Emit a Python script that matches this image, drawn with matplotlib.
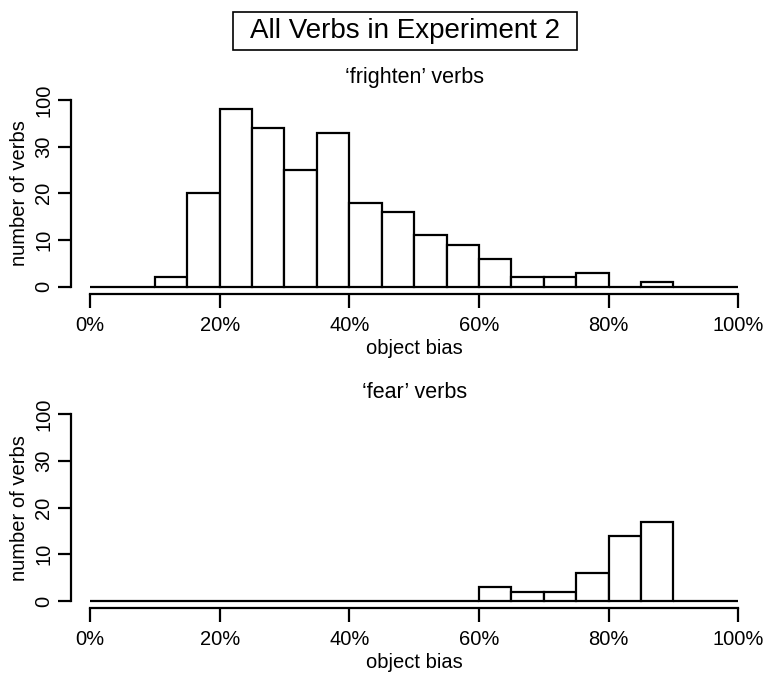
import numpy as np
import matplotlib
matplotlib.use("Agg")
import matplotlib.pyplot as plt
from matplotlib.patches import Rectangle

plt.rcParams['font.family'] = ['Liberation Sans', 'DejaVu Sans']

# histogram bins (object bias, %) and counts
bin_edges = np.arange(0, 105, 5)
frighten_counts = [0, 0, 2, 20, 38, 34, 25, 33, 18, 16, 11, 9, 6, 2, 2, 3, 0, 1, 0, 0]
fear_counts = [0, 0, 0, 0, 0, 0, 0, 0, 0, 0, 0, 0, 3, 2, 2, 6, 14, 17, 0, 0]

x_ticks = [0, 20, 40, 60, 80, 100]
x_labels = ['0%', '20%', '40%', '60%', '80%', '100%']
y_ticks = [0, 10, 20, 30, 40]
y_labels = ['0', '10', '20', '30', '100']

main_title = 'All Verbs in Experiment 2'
panel_titles = ['\u2018frighten\u2019 verbs', '\u2018fear\u2019 verbs']

fig = plt.figure(figsize=(7.65, 6.74), dpi=100)
W, H = 765, 674


def draw_panel(ax, counts, title):
    ax.bar(bin_edges[:-1], counts, width=5, align='edge', facecolor='white',
           edgecolor='black', linewidth=1.6, clip_on=False)
    ax.set_xlim(0, 100)
    ax.set_ylim(0, 40)
    for s in ['top', 'right']:
        ax.spines[s].set_visible(False)
    ax.spines['bottom'].set_position(('outward', 5))
    ax.spines['left'].set_position(('outward', 14))
    for s in ['bottom', 'left']:
        ax.spines[s].set_linewidth(1.6)
    ax.set_xticks(x_ticks)
    ax.set_xticklabels(x_labels)
    ax.set_yticks(y_ticks)
    ax.set_yticklabels(y_labels, rotation=90, va='center')
    ax.tick_params(axis='x', length=10, width=1.6, labelsize=14.5, pad=6)
    ax.tick_params(axis='y', length=9.5, width=1.6, labelsize=14.5, pad=3)
    ax.set_xlabel('object bias', fontsize=14.5, labelpad=3)
    ax.set_ylabel('number of verbs', fontsize=14.5, labelpad=4)
    ax.set_title(title, fontsize=15.5, pad=12)


ax1 = fig.add_axes([90 / W, 1 - 286.7 / H, 648.3 / W, 186.7 / H])
ax2 = fig.add_axes([90 / W, 1 - 601 / H, 648.3 / W, 186.7 / H])
draw_panel(ax1, frighten_counts, panel_titles[0])
draw_panel(ax2, fear_counts, panel_titles[1])

# boxed main title
fig.add_artist(Rectangle((233 / W, 1 - 50 / H), 344 / W, 38 / H,
                         transform=fig.transFigure, facecolor='white',
                         edgecolor='black', linewidth=1.2))
fig.text(405 / W, 1 - 31 / H, main_title, ha='center', va='center', fontsize=20)

fig.savefig('out.png', dpi=100)
